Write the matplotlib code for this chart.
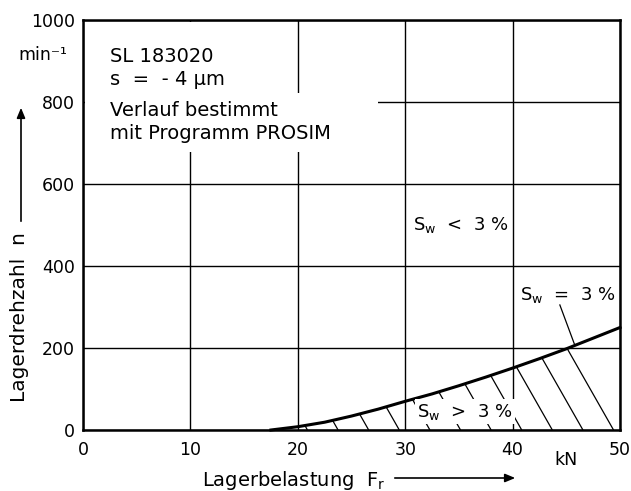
import numpy as np
import matplotlib
matplotlib.use("Agg")
import matplotlib.pyplot as plt
from matplotlib.patches import Rectangle, Polygon, FancyArrowPatch
from matplotlib.collections import LineCollection

# ---- data ----
load_kN = [17.5, 20, 22.5, 25, 27.5, 30, 32.5, 35, 37.5, 40, 42.5, 45, 47.5, 50]
speed_limit = [0, 8, 19, 34, 51, 70, 88, 108, 129, 151, 174, 198, 224, 250]
x_ticks = [0, 10, 20, 30, 40, 50]
y_ticks = [0, 200, 400, 600, 800, 1000]

plt.rcParams['font.family'] = ['DejaVu Sans']
fig = plt.figure(figsize=(6.31, 4.91), dpi=100)
ax = fig.add_axes([83/631, 1-430/491, 537/631, 410/491])
ax.set_xlim(0, 50)
ax.set_ylim(0, 1000)
ax.set_xticks(x_ticks)
ax.set_yticks(y_ticks)
ax.tick_params(length=0, labelsize=12.5)
ax.tick_params(axis='x', pad=8)
ax.tick_params(axis='y', pad=6)
for s in ax.spines.values():
    s.set_linewidth(1.8)
    s.set_zorder(6)
ax.grid(True, color='black', lw=1.0, zorder=0)
ax.set_axisbelow(True)

# white areas where grid is interrupted by the text block
ax.add_patch(Rectangle((0.003, 0.678), 0.308, 0.317, transform=ax.transAxes,
                       facecolor='white', edgecolor='none', zorder=1))
ax.add_patch(Rectangle((0.003, 0.678), 0.546, 0.144, transform=ax.transAxes,
                       facecolor='white', edgecolor='none', zorder=1))

# boundary curve
ax.plot(load_kN, speed_limit, color='black', lw=2.2, zorder=5, clip_on=False)

# hatched region under the curve
xs = np.array(load_kN)
ys = np.array(speed_limit)
poly_pts = np.column_stack([np.r_[xs, xs[-1], xs[0]], np.r_[ys, 0, 0]])
poly = Polygon(poly_pts, closed=True, facecolor='none', edgecolor='none')
ax.add_patch(poly)
slope = 46.0  # rpm per kN, direction of hatch lines
segs = []
for c in np.arange(49.4, 10, -2.85):
    segs.append([(c, 0), (c - 400/slope, 400)])
lc = LineCollection(segs, colors='black', linewidths=0.9, zorder=3)
ax.add_collection(lc)
lc.set_clip_path(poly)

# text block
kw = dict(transform=ax.transAxes, fontsize=14, va='center', ha='left', zorder=7)
ax.text(0.050, 0.910, "SL 183020", **kw)
ax.text(0.050, 0.854, "s  =  - 4 µm", **kw)
ax.text(0.050, 0.780, "Verlauf bestimmt", **kw)
ax.text(0.050, 0.722, "mit Programm PROSIM", **kw)

lab = dict(transform=ax.transAxes, fontsize=13, va='center', ha='left', zorder=7)
ax.text(0.615, 0.500, r"S$_\mathrm{w}$  <  3 %", **lab)
ax.text(0.814, 0.329, r"S$_\mathrm{w}$  =  3 %", **lab)
ax.text(0.622, 0.045, r"S$_\mathrm{w}$  >  3 %",
        bbox=dict(facecolor='white', edgecolor='none', pad=1.5), **lab)

# leader line to the curve
x_end = 45.8
y_end = float(np.interp(x_end, load_kN, speed_limit))
ax.plot([44.4, x_end], [305, y_end], color='black', lw=0.9, zorder=4)

# units and axis labels
fig.text(18/631, 1-55/491, "min⁻¹", fontsize=12.5, ha='left', va='center')
fig.text(566/631, 1-460/491, "kN", fontsize=12.5, ha='center', va='center')
fig.text(20/631, 1-317/491, "Lagerdrehzahl  n", fontsize=14.5, rotation=90,
         ha='center', va='center')
fig.text(202/631, 1-480/491, r"Lagerbelastung  F$_\mathrm{r}$", fontsize=14,
         ha='left', va='center')
fig.add_artist(FancyArrowPatch(
    (21/631, 1-224/491), (21/631, 1-105/491), transform=fig.transFigure,
    arrowstyle='-|>,head_length=6,head_width=2.5', color='black', lw=1.2))
fig.add_artist(FancyArrowPatch(
    (392/631, 1-478/491), (518/631, 1-478/491), transform=fig.transFigure,
    arrowstyle='-|>,head_length=6,head_width=2.5', color='black', lw=1.2))

fig.savefig("out.png", dpi=100)
